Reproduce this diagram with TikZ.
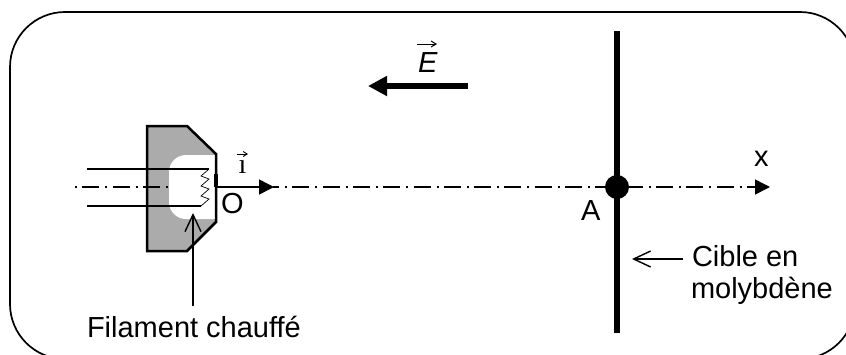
\documentclass[tikz,border=0pt]{standalone}
\usepackage{fontspec}
\setmainfont{Liberation Sans}
\newfontfamily\serifi{Liberation Serif}
\usetikzlibrary{arrows.meta}
\definecolor{cathode}{HTML}{ABABAB}
\tikzset{
  lbl/.style={inner sep=0pt,outer sep=0pt,anchor=base west,font=\fontsize{29}{34}\selectfont},
  axisline/.style={line width=1.4pt,dash pattern=on 17pt off 6pt on 2pt off 5.3pt},
  solidtip/.style={-{Triangle[length=15pt,width=15pt]}},
  openarrow/.style={-{Straight Barb[length=17pt,width=16pt,line width=1.4pt]},line width=1.6pt},
  wire/.style={line width=1.1pt},
  thinwire/.style={line width=0.7pt},
}
\begin{document}
\begin{tikzpicture}[x=1pt,y=-1pt]
\useasboundingbox (0,0) rectangle (846,354);
\clip (0,0) rectangle (846,354);
\draw[line width=1.7pt,rounded corners=55pt] (10,12) rectangle (855,359);
% cathode
\coordinate (axL) at (75,187);
\coordinate (axM) at (168,187);
\coordinate (O) at (216,187);
\coordinate (iT) at (274,187);
\coordinate (axS) at (273,187);
\coordinate (xT) at (770,187);
\path[fill=cathode] (147,126) -- (187,126) -- (216,154) -- (216,222) -- (187,251) -- (147,251) -- cycle;
\fill[white] (216,155) -- (187,155) [rounded corners=17pt] -- (169,155) -- (169,219) [sharp corners] -- (216,219) -- cycle;
\draw[line width=2.5pt,line join=miter] (147,126) -- (187,126) -- (216,154) -- (216,222) -- (187,251) -- (147,251) -- cycle;
% axis
\draw[axisline,dash phase=23pt] (axL) -- (axM);
\draw[axisline,dash phase=11pt] (axS) -- (755,187);
\draw[line width=1.6pt,solidtip] (O) -- (iT);
\draw[line width=1.6pt,solidtip] (755,187) -- (xT);
\draw[line width=4pt] (215.5,174) -- (215.5,187);
% wires
\draw[wire] (87,169) -- (209,169);
\draw[wire] (87,206) -- (201,206);
\draw[thinwire] (209,169) -- (201,176) -- (209,179) -- (201,186) -- (209,189) -- (201,196) -- (209,199) -- (201,206);
% target
\draw[line width=6.5pt] (617,31) -- (617,333);
\node[circle,fill=black,minimum size=24pt,inner sep=0pt] (A) at (617,187) {};
% field
\draw[line width=6pt,-{Triangle[length=19pt,width=19pt]}] (468,86) -- (368,86);
\node[lbl,font=\fontsize{29}{34}\selectfont\itshape] (E) at (418,72) {E};
\coordinate (Ea) at (417,44); \coordinate (Eb) at (437,44);
\draw[line width=1pt,-{Straight Barb[length=5pt,width=6pt]}] (Ea) -- (Eb);
% i vector
\node[lbl,font=\fontsize{28}{32}\selectfont\serifi] (i) at (238.5,173) {ı};
\coordinate (ia) at (236.5,154); \coordinate (ib) at (248,154);
\draw[line width=0.9pt,-{Straight Barb[length=4pt,width=5pt]}] (ia) -- (ib);
% labels
\node[lbl] (Ol) at (221,213) {O};
\node[lbl] (Al) at (581,220) {A};
\node[lbl] (xl) at (754,166) {x};
\node[lbl] (c1) at (692,266) {Cible en};
\node[lbl] (c2) at (691,298) {molybdène};
\node[lbl] (f) at (87,337) {Filament chauffé};
\coordinate (cT) at (632,259);
\coordinate (fT) at (193,213);
\coordinate (fS) at (193,306);
\draw[openarrow] (683,259) -- (cT);
\draw[openarrow] (fS) -- (fT);
\end{tikzpicture}
\end{document}
